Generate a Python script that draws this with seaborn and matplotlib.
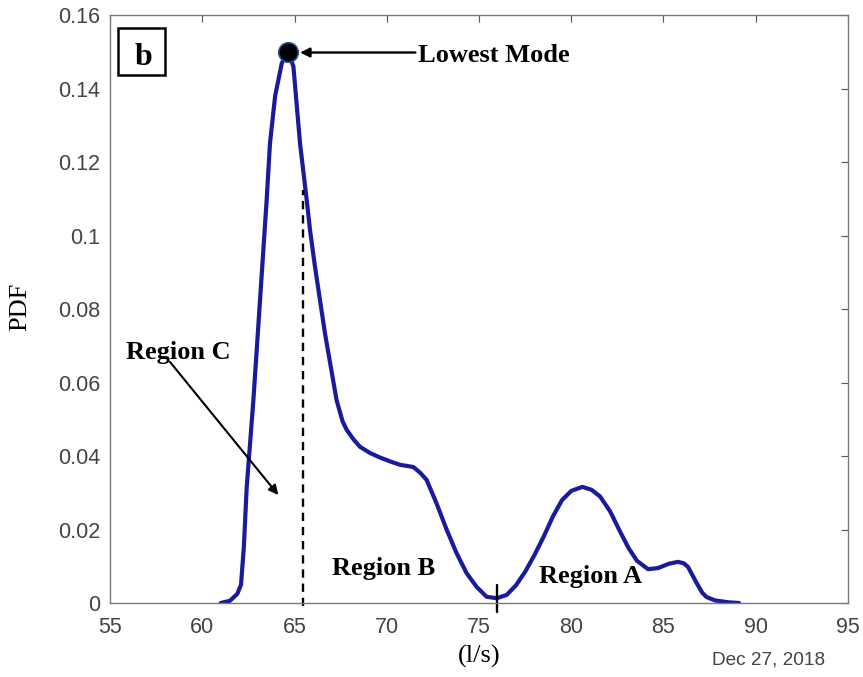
import numpy as np
import pandas as pd
import seaborn as sns
import matplotlib.pyplot as plt
from matplotlib.patches import Rectangle
from matplotlib.ticker import FuncFormatter

# ── data ────────────────────────────────────────────────────────────────
flow = [61.0, 61.5, 61.9, 62.1, 62.25, 62.41, 62.77, 63.13, 63.49, 63.67,
        63.95, 64.31, 64.65, 64.94, 65.3, 65.66, 65.84, 66.11, 66.65, 67.28,
        67.6, 67.83, 68.2, 68.55, 69.1, 69.63, 70.2, 70.72, 71.1, 71.44,
        71.8, 72.16, 72.7, 73.25, 73.79, 74.33, 74.87, 75.41, 75.96, 76.5,
        77.0, 77.5, 78.0, 78.5, 79.0, 79.5, 80.0, 80.6, 81.1, 81.56,
        82.1, 82.64, 83.1, 83.56, 84.16, 84.7, 85.3, 85.79, 86.1, 86.33,
        86.8, 87.1, 87.34, 87.8, 88.5, 89.1]
pdf = [0.0, 0.0006, 0.0025, 0.0050, 0.0150, 0.0316, 0.0552, 0.0824, 0.1097, 0.1251,
       0.1380, 0.1469, 0.1500, 0.1460, 0.1250, 0.1097, 0.1015, 0.0915, 0.0734, 0.0552,
       0.0495, 0.0471, 0.0445, 0.0425, 0.0408, 0.0396, 0.0385, 0.0376, 0.0373, 0.0370,
       0.0355, 0.0335, 0.0271, 0.0199, 0.0135, 0.0081, 0.0044, 0.0017, 0.0013, 0.0022,
       0.0048, 0.0085, 0.0130, 0.0180, 0.0235, 0.0280, 0.0305, 0.0316, 0.0308, 0.0290,
       0.0250, 0.0195, 0.0150, 0.0115, 0.0092, 0.0095, 0.0107, 0.0112, 0.0108, 0.0098,
       0.0054, 0.0028, 0.0016, 0.0007, 0.0002, 0.0]

mode_x, mode_y = 64.65, 0.150
split_x, split_top = 65.48, 0.1124
min_x = 76.0

df = pd.DataFrame({"flow": flow, "pdf": pdf})

sns.set_style("white")
plt.rcParams["font.family"] = ["Liberation Sans", "DejaVu Sans"]
plt.rcParams["text.color"] = "black"

fig = plt.figure(figsize=(8.63, 6.77), dpi=100)
ax = fig.add_axes([0.1275, 0.1093, 0.8551, 0.8685])

sns.lineplot(data=df, x="flow", y="pdf", color="#1a1a9c", lw=3,
             estimator=None, sort=False, ax=ax)

ax.set_xlim(55, 95)
ax.set_ylim(0, 0.16)
ax.set_xticks(np.arange(55, 96, 5))
ax.set_yticks(np.arange(0, 0.161, 0.02))
ax.yaxis.set_major_formatter(FuncFormatter(lambda v, p: f"{round(v, 2):g}"))
ax.tick_params(direction="in", top=True, right=True, length=5, width=0.8,
               color="#555555", labelcolor="#444444", labelsize=15.5)
ax.tick_params(axis="x", pad=10)
ax.tick_params(axis="y", pad=7)
for s in ax.spines.values():
    s.set_color("#7a7a7a")
    s.set_linewidth(1.0)

serif = ["Liberation Serif", "DejaVu Serif"]
ax.set_xlabel("(l/s)", fontsize=19, family=serif, color="black")
ax.xaxis.set_label_coords(0.5, -0.071)
ax.set_ylabel("")
fig.text(20 / 863, 1 - 307 / 677, "PDF", fontsize=19, family=serif, rotation=90,
         ha="center", va="center")

# dashed split line and minimum tick
ax.plot([split_x, split_x], [-0.0008, split_top], ls=(0, (3.5, 2.5)), color="black",
        lw=1.7, clip_on=False)
ax.plot([min_x, min_x], [-0.0025, 0.005], color="black", lw=1.7, clip_on=False)

# lowest mode marker and annotation
ax.plot(mode_x, mode_y, "o", ms=14, mfc="black", mec="#1f4f8f", mew=1.2, zorder=5)
ax.annotate("", xy=(65.3, 0.1498), xytext=(71.55, 0.1498),
            arrowprops=dict(arrowstyle="-|>", color="black", lw=1.7,
                            shrinkA=0, shrinkB=0, mutation_scale=14))
ax.text(71.7, 0.1491, "Lowest Mode", fontsize=19, fontweight="bold", family=serif,
        ha="left", va="center")

# region labels
ax.text(58.7, 0.0683, "Region C", fontsize=19, fontweight="bold", family=serif,
        ha="center", va="center")
ax.annotate("", xy=(64.12, 0.0294), xytext=(58.25, 0.0656),
            arrowprops=dict(arrowstyle="-|>", color="black", lw=1.5,
                            shrinkA=0, shrinkB=0, mutation_scale=14))
ax.text(69.85, 0.0095, "Region B", fontsize=19, fontweight="bold", family=serif,
        ha="center", va="center")
ax.text(81.07, 0.0071, "Region A", fontsize=19, fontweight="bold", family=serif,
        ha="center", va="center")

# panel tag
ax.add_patch(Rectangle((0.0108, 0.898), 0.0637, 0.080, transform=ax.transAxes,
                       fc="white", ec="black", lw=1.8, zorder=6))
ax.text(0.0454, 0.915, "b", transform=ax.transAxes, fontsize=23, fontweight="bold",
        family=serif, ha="center", va="baseline", zorder=7)

fig.text(0.956, 0.025, "Dec 27, 2018", fontsize=13.7, color="#444444",
         ha="right", va="center")

fig.savefig("out.png", dpi=100)
